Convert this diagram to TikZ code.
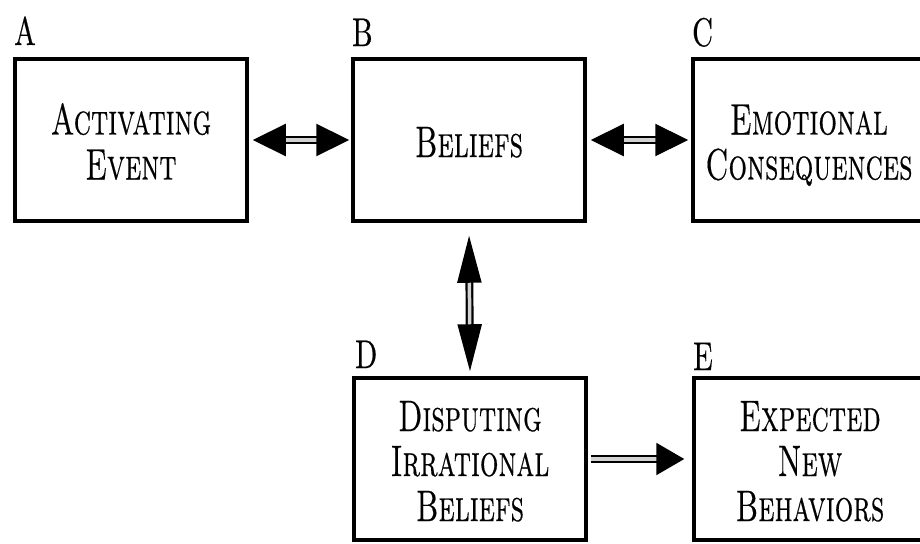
\documentclass[tikz,border=0pt]{standalone}
\usepackage{fontspec}
\usetikzlibrary{arrows.meta}
\newfontfamily\capsfont{lmromancaps10-regular.otf}[FakeBold=0.5]
\newfontfamily\labfont{lmroman10-regular.otf}[FakeBold=0.5]
\newcommand{\boxtxt}[1]{\raisebox{-8pt}[\height][\depth]{\scalebox{0.665}[1]{\fontsize{44}{45}\capsfont\begin{tabular}{@{}c@{}}#1\end{tabular}}}}
\newcommand{\labtxt}[1]{\scalebox{0.72}[1]{\fontsize{40}{40}\labfont #1}}
\tikzset{
  abox/.style={draw, line width=3.5pt, minimum width=232pt, minimum height=162pt, inner sep=0pt},
  lab/.style={inner sep=0pt, anchor=base west},
  dbl/.style={draw, line width=2.2pt, double=gray!35, double distance=3.5pt},
}
\begin{document}
\begin{tikzpicture}[x=1pt,y=-1pt]
\useasboundingbox (0,0) rectangle (920,543);
\node[abox] (A) at (131,140) {\boxtxt{Activating\\Event}};
\node[abox] (B) at (469,140) {\boxtxt{Beliefs}};
\node[abox] (C) at (809,140) {\boxtxt{Emotional\\Consequences}};
\node[abox] (D) at (470,459) {\boxtxt{Disputing\\Irrational\\Beliefs}};
\node[abox] (E) at (810,459) {\boxtxt{Expected\\New\\Behaviors}};
\node[lab] (la) at (14,45) {\labtxt{A}};
\node[lab] (lb) at (352,46) {\labtxt{B}};
\node[lab] (lc) at (692,46) {\labtxt{C}};
\node[lab] (ld) at (355,368) {\labtxt{D}};
\node[lab] (le) at (693,370) {\labtxt{E}};
\draw[dbl, {Triangle[length=33pt,width=32pt]}-{Triangle[length=33pt,width=32pt]}, shorten <=4pt, shorten >=2pt] (A.east) -- (B.west);
\draw[dbl, {Triangle[length=33pt,width=32pt]}-{Triangle[length=33pt,width=32pt]}, shorten <=4pt, shorten >=3pt] (B.east) -- (C.west);
\draw[dbl, {Triangle[length=47pt,width=24pt]}-{Triangle[length=47pt,width=24pt]}, shorten <=13pt, shorten >=5pt] (B.south) -- (D.north);
\draw[dbl, -{Triangle[length=28pt,width=32pt]}, shorten <=3pt, shorten >=8pt] (D.east) -- (E.west);
\end{tikzpicture}
\end{document}
